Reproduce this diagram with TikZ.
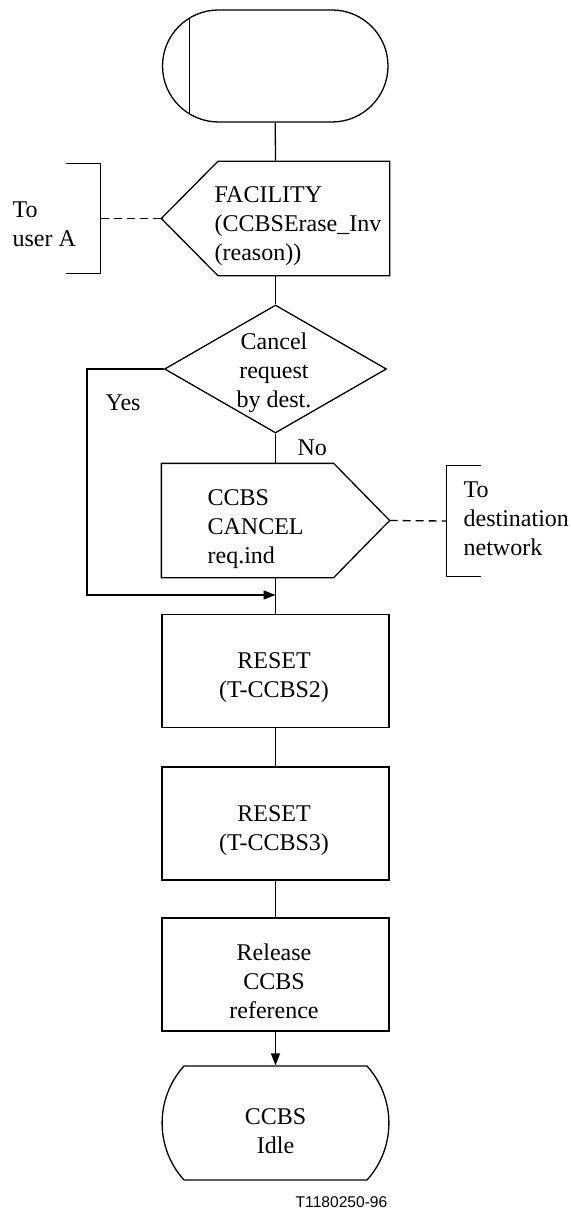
\documentclass[tikz,border=0pt]{standalone}
\usepackage{fontspec}
\setmainfont{Liberation Serif}
\newfontfamily\tagfont{Liberation Sans}
\usetikzlibrary{shapes.geometric,arrows.meta,calc}
\begin{document}
\begin{tikzpicture}[x=0.5pt,y=-0.5pt,line width=0.65pt,
  box/.style={rectangle, draw, minimum width=113.5pt, minimum height=56.5pt, inner sep=0pt},
  ghost/.style={rectangle, minimum width=113.5pt, minimum height=56.5pt, inner sep=0pt},
  brk/.style={rectangle, minimum width=16.5pt, inner sep=0pt},
  txt/.style={font=\fontsize{12}{14.5}\selectfont, align=center, inner sep=0pt},
  ltxt/.style={txt, align=left},
  sig/.style={dash pattern=on 4pt off 2.5pt},
  arr/.style={-{Triangle[length=6pt,width=4.5pt]}}
]
\useasboundingbox (0,0) rectangle (570,1209);

% start
\node[draw, rounded corners=28pt, minimum width=112.75pt, minimum height=56pt, inner sep=0pt] (start) at (275.25,66) {};
\draw ([shift={(27.5,-48.2)}]start.west) -- ([shift={(27.5,48.2)}]start.west);

% FACILITY output (to user A)
\node[ghost] (fac) at (275.5,218.5) {};
\draw (fac.west) -- ([xshift=28.25pt]fac.north west) -- (fac.north east) -- (fac.south east) -- ([xshift=28.25pt]fac.south west) -- cycle;
\node[ltxt, anchor=west] (factxt) at (214,226.3) {FACILITY\\(CCBSErase\_Inv\\(reason))};
\node[brk, minimum height=54.5pt] (ua) at (83.5,218.5) {};
\draw (ua.north west) -- (ua.north east) -- (ua.south east) -- (ua.south west);
\draw[sig] (ua.east) -- (fac.west);
\node[ltxt, anchor=west] (uatxt) at (12,224) {To\\user A};
\draw (start.south) -- (fac.north);

% decision
\node[diamond, draw, minimum width=111pt, minimum height=64pt, inner sep=0pt] (dec) at (275.5,369) {};
\node[txt] (dectxt) at (274,373) {Cancel\\request\\by dest.};
\draw (fac.south) -- (dec.north);
\node[txt, anchor=west] (yes) at (105,402.5) {Yes};
\node[txt, anchor=west] (no) at (297,447.5) {No};

% CCBS CANCEL output
\node[ghost] (can) at (275.5,520.5) {};
\draw (can.north west) -- ([xshift=-28pt]can.north east) -- (can.east) -- ([xshift=-28pt]can.south east) -- (can.south west) -- cycle;
\node[ltxt, anchor=west] (cantxt) at (207,528.7) {CCBS\\CANCEL\\req.ind};
\draw (dec.south) -- (can.north);
\node[brk, minimum height=55pt] (dn) at (463.5,521) {};
\draw (dn.north east) -- (dn.north west) -- (dn.south west) -- (dn.south east);
\draw[sig] (can.east) -- (dn.west);
\node[ltxt, anchor=west] (dntxt) at (463,519) {To\\destination\\network};

% tasks
\node[box] (r1) at (275.5,671) {};
\node[txt] (r1txt) at (274,678) {RESET\\(T-CCBS2)};
\node[box] (r2) at (275.5,823.5) {};
\node[txt] (r2txt) at (274,830.5) {RESET\\(T-CCBS3)};
\node[box] (r3) at (275.5,974.5) {};
\node[txt] (r3txt) at (274,981.5) {Release\\CCBS\\reference};

\coordinate (j) at (275.5,595);
\coordinate (yc) at (87,595);
\draw (can.south) -- (r1.north);
\draw[arr] (dec.west) -| (yc) -- (j);
\draw (r1.south) -- (r2.north);
\draw (r2.south) -- (r3.north);

% final state
\node[ghost, minimum height=57pt] (idle) at (275.5,1123) {};
\draw (184,1066) .. controls (154.8,1098.4) and (154.8,1147.6) .. (184,1180) -- (367,1180) .. controls (396.2,1147.6) and (396.2,1098.4) .. (367,1066) -- cycle;
\node[txt] (idletxt) at (275.5,1131) {CCBS\\Idle};
\draw[arr] (r3.south) -- (idle.north);

\node[font=\tagfont\fontsize{7.8}{9}\selectfont, anchor=base east, inner sep=0pt] (tag) at (388,1207) {T1180250-96};
\end{tikzpicture}
\end{document}
